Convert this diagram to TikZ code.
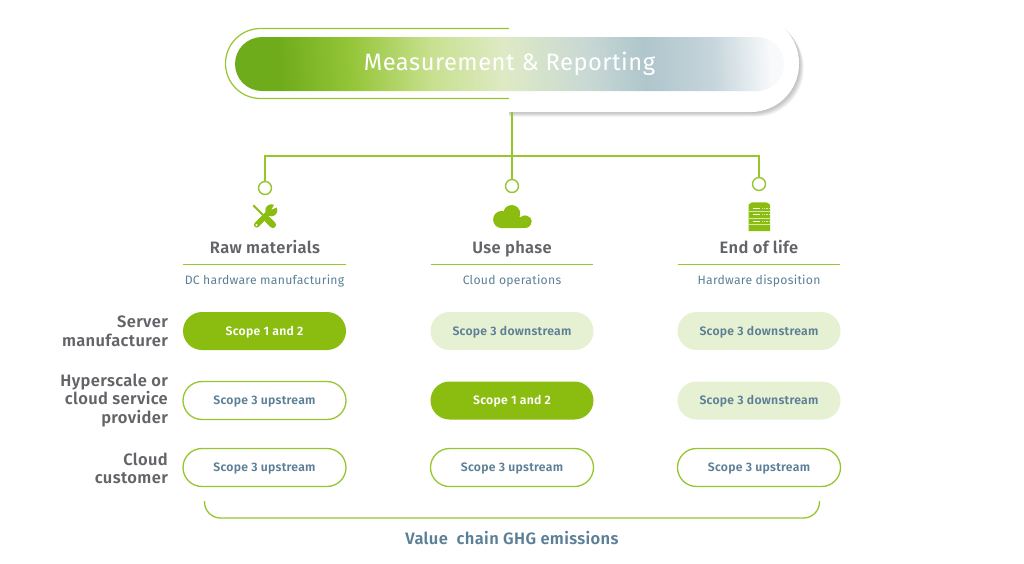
\documentclass[tikz,border=0pt]{standalone}
\usepackage{fontspec}
\setmainfont[LetterSpace=2.2,BoldFont={Fira Sans SemiBold}]{Fira Sans}
\usetikzlibrary{calc}
\definecolor{lime}{HTML}{8ABD10}
\definecolor{limeline}{HTML}{96C62E}
\definecolor{palegreen}{HTML}{E6F0D2}
\definecolor{slate}{HTML}{5A7F96}
\definecolor{greytext}{HTML}{626468}
\definecolor{ga}{HTML}{6FAC1C}
\definecolor{gb}{HTML}{96C63A}
\definecolor{gc}{HTML}{C8E08F}
\definecolor{gd}{HTML}{DEEAC5}
\definecolor{ge}{HTML}{C8D8D4}
\definecolor{gf}{HTML}{AFC6CC}
\definecolor{gg}{HTML}{C5D5DB}
\definecolor{gh}{HTML}{F7F9FA}
\pgfdeclarehorizontalshading{titlegrad}{100bp}{
  color(0bp)=(ga);
  color(28bp)=(ga);
  color(35bp)=(gb);
  color(42.5bp)=(gc);
  color(49.5bp)=(gd);
  color(57.5bp)=(ge);
  color(63bp)=(gf);
  color(69.5bp)=(gg);
  color(75bp)=(gh);
  color(100bp)=(gh)}
\tikzset{
  x=1pt,y=-1pt,
  conn/.style={draw=limeline,line width=1.4pt},
  dotnode/.style={circle,draw=limeline,fill=white,line width=1.4pt,minimum size=13pt,inner sep=0pt},
  pillbase/.style={rectangle,rounded corners=19pt,minimum width=163pt,minimum height=38pt,inner sep=0pt,text height=8pt,text depth=0pt,font=\fontsize{12.2}{15}\selectfont\bfseries},
  pillfull/.style={pillbase,fill=lime,text=white},
  pillpale/.style={pillbase,fill=palegreen,text=slate},
  pillopen/.style={pillbase,draw=limeline,line width=1.3pt,fill=white,text=slate},
  headtext/.style={anchor=base,text=greytext,font=\fontsize{16.5}{19}\selectfont\bfseries,inner sep=0pt},
  subtext/.style={anchor=base,text=slate,font=\fontsize{12.2}{15}\selectfont,inner sep=0pt},
  rowlabel/.style={anchor=east,align=right,text=greytext,font=\fontsize{16.5}{18.6}\selectfont\bfseries,inner sep=0pt},
  iconfill/.style={fill=lime,draw=none},
}
\begin{document}
\begin{tikzpicture}
\useasboundingbox (0,0) rectangle (1024,563);
% outline pill
\draw[limeline,line width=1.2pt] (509,28.5) [rounded corners=35pt] -- (225.5,28.5) -- (225.5,98.5) [sharp corners] -- (509,98.5);
% panel shadow
\foreach \g in {1,...,8}{
  \fill[black,opacity=0.035] ({509},{15+\g*0.6}) [rounded corners=48pt] -- ({799+\g*0.6},{15+\g*0.6}) -- ({799+\g*0.6},{112+\g*0.6}) [sharp corners] -- (509,{112+\g*0.6}) -- cycle;
}
\fill[white] (509,15) [rounded corners=48pt] -- (799,15) -- (799,112) [sharp corners] -- (509,112) -- cycle;
% title bar
\node (title) [rectangle,rounded corners=27pt,minimum width=549pt,minimum height=54pt,inner sep=0pt,shading=titlegrad,shading angle=3.5] at (509.5,64) {};
\node (titletext) [text=white,font=\fontsize{23.7}{28}\selectfont,inner sep=0pt] at (509.5,63.5) {Measurement \& Reporting};
% connectors
\coordinate (panelbase) at (512,112);
\coordinate (j1) at (265,156);
\coordinate (j3) at (759,156);
\node (d1) [dotnode] at (265,188) {};
\node (d2) [dotnode] at (512,186) {};
\node (d3) [dotnode] at (759,184) {};
\draw[conn] (panelbase) -- (d2);
\draw[conn] (d1) -- (j1) -- (j3) -- (d3);
% wrench icon
\draw[lime,line width=5.5pt,line cap=round] (256.7,224.8) -- (269.5,212);
\fill[iconfill] (271.3,210.3) circle (6pt);
\fill[white] (271.5,209.5) -- (275.2,203) -- (279,206.5) -- cycle;
\fill[white] (256.5,225) circle (1.1pt);
\draw[lime,line width=2pt,line cap=round] (253.5,205.5) -- (263,215);
\draw[lime,line width=6.5pt,line cap=round] (267.3,219.3) -- (272.8,224.8);
% cloud icon
\fill[iconfill,rounded corners=4pt] (498,228) -- (526,228) -- (531.7,225) -- (531.7,217) -- (498,217) -- cycle;
\fill[iconfill] (511.7,213.5) circle (8.5pt);
\fill[iconfill] (501.7,219.5) circle (8.6pt);
\fill[iconfill] (525,221.7) circle (6.3pt);
% server icon
\fill[iconfill] (748.5,231) -- (748.5,205) [rounded corners=3pt] -- (750,202.3) -- (768.5,202.3) [sharp corners] -- (770,205) -- (770,231) -- cycle;
\foreach \yy in {211.7,218,224.6}{\draw[white!65!lime,line width=0.7pt] (748.5,\yy) -- (770,\yy);}
\foreach \yy in {208.2,214.8,221.3}{
  \draw[white!90!lime,line width=1.1pt] (752.5,\yy) -- (760,\yy);
  \draw[white!70!lime,line width=1.1pt,dash pattern=on 1.2pt off 1pt] (762,\yy) -- (769,\yy);
}
% column heads
\node (h1) [headtext] at (265,253.5) {Raw materials};
\node (h2) [headtext] at (512,253.5) {Use phase};
\node (h3) [headtext] at (759,253.5) {End of life};
\coordinate (u1a) at (183,264.5); \coordinate (u1b) at (346,264.5);
\coordinate (u2a) at (431,264.5); \coordinate (u2b) at (593,264.5);
\coordinate (u3a) at (678,264.5); \coordinate (u3b) at (840,264.5);
\draw[limeline,line width=1pt] (u1a) -- (u1b);
\draw[limeline,line width=1pt] (u2a) -- (u2b);
\draw[limeline,line width=1pt] (u3a) -- (u3b);
\node (s1) [subtext] at (264.5,284.5) {DC hardware manufacturing};
\node (s2) [subtext] at (512,284.5) {Cloud operations};
\node (s3) [subtext] at (759,284.5) {Hardware disposition};
% row labels
\node (r1) [rowlabel] at (168,331) {Server\\manufacturer};
\node (r2) [rowlabel] at (168,400.5) {Hyperscale or\\cloud service\\provider};
\node (r3) [rowlabel] at (168,468.5) {Cloud\\customer};
% pills
\node (p11) [pillfull] at (264.5,331) {Scope 1 and 2};
\node (p12) [pillpale] at (512,331) {Scope 3 downstream};
\node (p13) [pillpale] at (759,331) {Scope 3 downstream};
\node (p21) [pillopen] at (264.5,400.5) {Scope 3 upstream};
\node (p22) [pillfull] at (512,400.5) {Scope 1 and 2};
\node (p23) [pillpale] at (759,400.5) {Scope 3 downstream};
\node (p31) [pillopen] at (264.5,467.5) {Scope 3 upstream};
\node (p32) [pillopen] at (512,467.5) {Scope 3 upstream};
\node (p33) [pillopen] at (759,467.5) {Scope 3 upstream};
% bracket
\draw[limeline,line width=1.3pt] (204.5,501) [rounded corners=16pt] -- (204.5,518) -- (819.5,518) [sharp corners] -- (819.5,501);
\node (foot) [text=slate,font=\fontsize{16.5}{19}\selectfont\bfseries,inner sep=0pt] at (512,538) {Value\ \ chain GHG emissions};
\end{tikzpicture}
\end{document}
